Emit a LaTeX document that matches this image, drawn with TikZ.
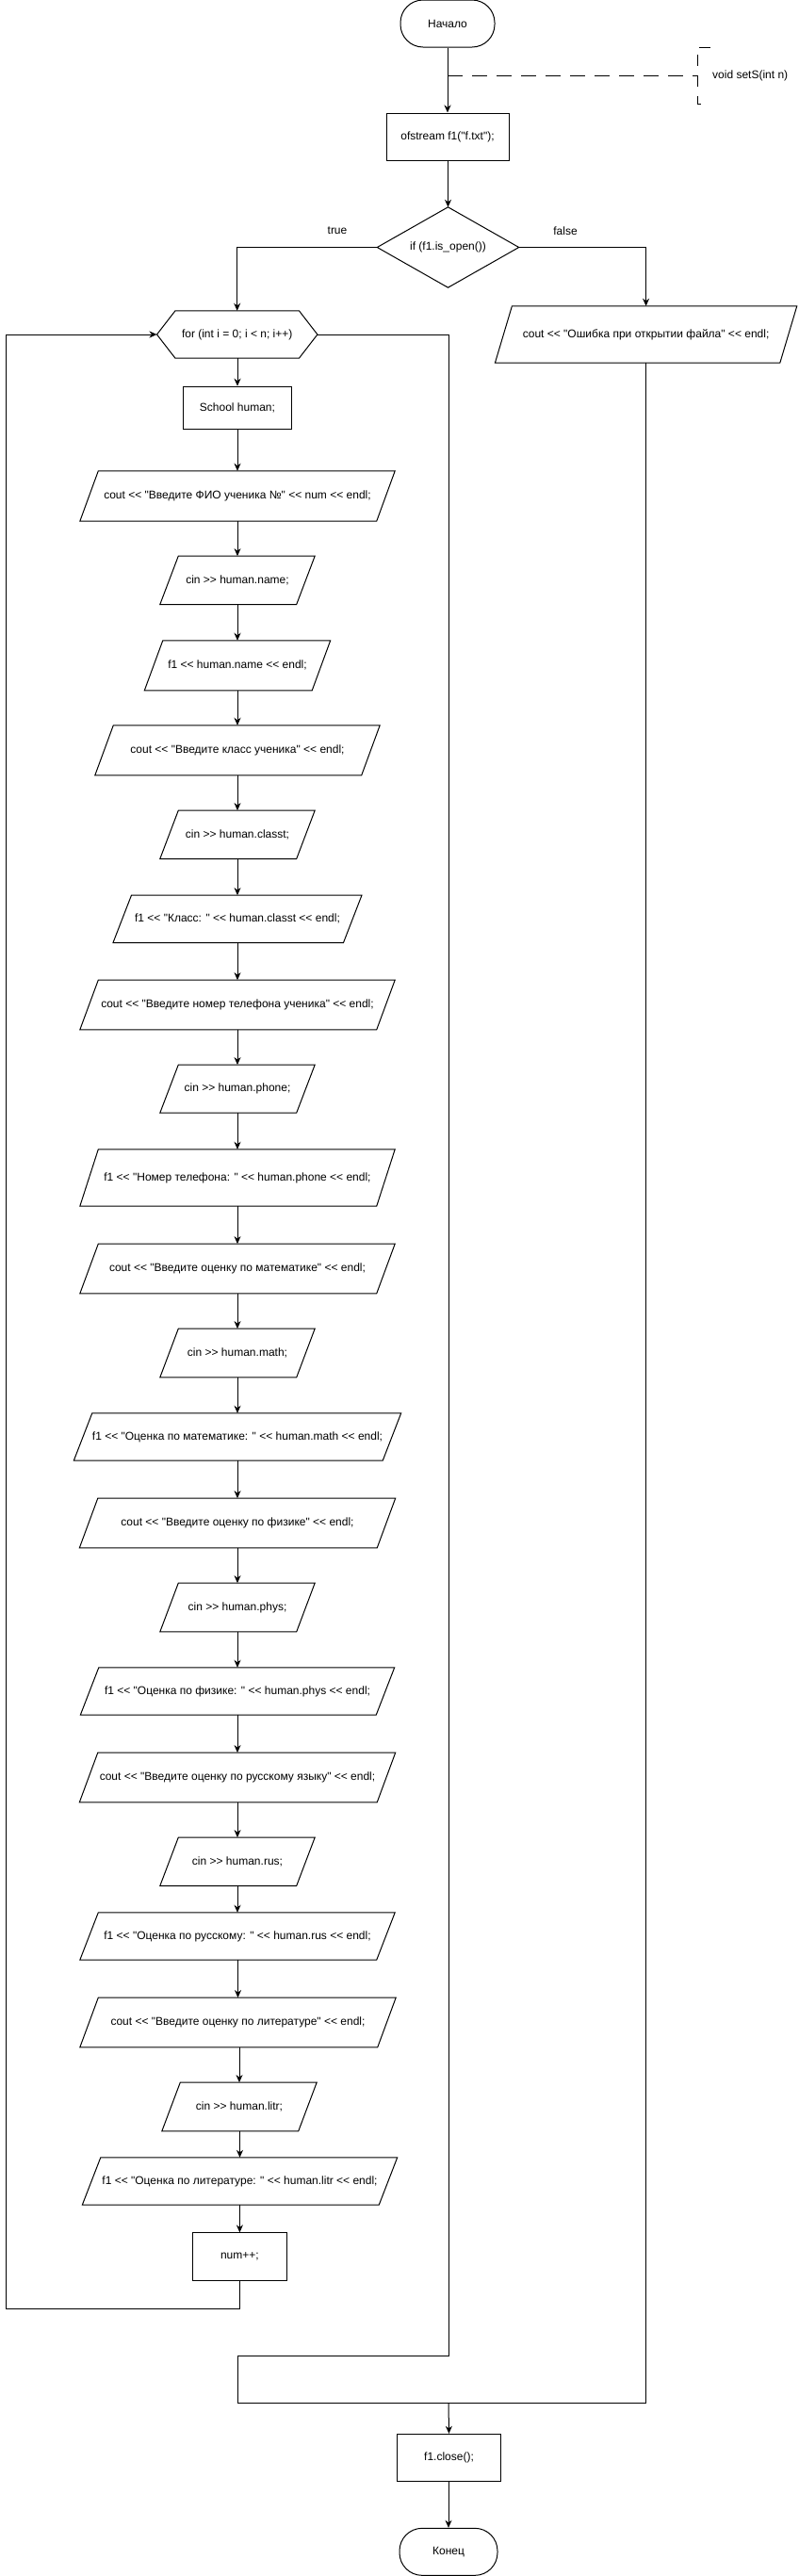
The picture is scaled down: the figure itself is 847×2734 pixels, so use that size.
\documentclass[tikz,border=0pt]{standalone}
\usepackage{fontspec}
\setmainfont{Liberation Sans}[Ligatures=TeXOff]
\usetikzlibrary{arrows.meta,calc}
\begin{document}
\begin{tikzpicture}[x=1pt,y=-1pt,
  every node/.style={font=\fontsize{12}{14}\selectfont, inner sep=0pt},
  line/.style={line width=1pt, draw=black},
  arr/.style={line, -{Stealth[length=8pt,width=7pt,inset=2.5pt]}},
  boxnode/.style={draw=none, rectangle, align=center},
  rectbox/.style={boxnode, draw=black, line width=1pt},
  termbox/.style={boxnode, draw=black, line width=1pt, rounded corners=24pt, minimum width=100pt, minimum height=50pt},
  shapeline/.style={line, line join=miter},
  annot/.style={line, dash pattern=on 16pt off 10pt},
  lbl/.style={font=\fontsize{12}{14}\selectfont}
]
\fill[white] (0,0) rectangle (847,2734);
\useasboundingbox (0,0) rectangle (847,2734);

% top part
\node[termbox] (start) at (475,25) {Начало};
\node[rectbox, minimum width=130pt, minimum height=50pt] (ofs) at (475,145) {ofstream f1("f.txt");};
\node[boxnode, minimum width=150pt, minimum height=85pt] (dec) at (475.5,262.5) {if (f1.is\_open())};
\node[boxnode, minimum width=320pt, minimum height=60pt] (err) at (685.6,355) {cout << "Ошибка при открытии файла" << endl;};
\node[boxnode, minimum width=170pt, minimum height=50pt] (loop) at (251.7,355) {for (int i = 0; i < n; i++)};
\node[rectbox, minimum width=115pt, minimum height=45pt] (sch) at (252,432.7) {School human;};

% loop body
\node[boxnode, minimum width=334pt, minimum height=53pt] (p1) at (252,526.5) {cout << "Введите ФИО ученика №" << num << endl;};
\node[boxnode, minimum width=164pt, minimum height=51pt] (p2) at (252,615.8) {cin >> human.name;};
\node[boxnode, minimum width=197pt, minimum height=52.7pt] (p3) at (252,706.3) {f1 << human.name << endl;};
\node[boxnode, minimum width=302pt, minimum height=52.7pt] (p4) at (252,796.3) {cout << "Введите класс ученика" << endl;};
\node[boxnode, minimum width=164pt, minimum height=51pt] (p5) at (252,885.8) {cin >> human.classt;};
\node[boxnode, minimum width=263.6pt, minimum height=50pt] (p6) at (252,975.3) {f1 << "Класс: " << human.classt << endl;};
\node[boxnode, minimum width=334pt, minimum height=52.4pt] (p7) at (252,1066.5) {cout << "Введите номер телефона ученика" << endl;};
\node[boxnode, minimum width=164pt, minimum height=50.7pt] (p8) at (252,1155.6) {cin >> human.phone;};
\node[boxnode, minimum width=334pt, minimum height=60pt] (p9) at (252,1250) {f1 << "Номер телефона: " << human.phone << endl;};
\node[boxnode, minimum width=334pt, minimum height=52.4pt] (p10) at (252,1346.5) {cout << "Введите оценку по математике" << endl;};
\node[boxnode, minimum width=164pt, minimum height=51.4pt] (p11) at (252,1436) {cin >> human.math;};
\node[boxnode, minimum width=347pt, minimum height=50pt] (p12) at (252,1525) {f1 << "Оценка по математике: " << human.math << endl;};
\node[boxnode, minimum width=335pt, minimum height=52.4pt] (p13) at (252,1616.5) {cout << "Введите оценку по физике" << endl;};
\node[boxnode, minimum width=164pt, minimum height=51.4pt] (p14) at (252,1706) {cin >> human.phys;};
\node[boxnode, minimum width=333pt, minimum height=50pt] (p15) at (252,1795) {f1 << "Оценка по физике: " << human.phys << endl;};
\node[boxnode, minimum width=335pt, minimum height=52.4pt] (p16) at (252,1886.5) {cout << "Введите оценку по русскому языку" << endl;};
\node[boxnode, minimum width=164pt, minimum height=51pt] (p17) at (252,1975.8) {cin >> human.rus;};
\node[boxnode, minimum width=334pt, minimum height=50pt] (p18) at (252,2055) {f1 << "Оценка по русскому: " << human.rus << endl;};
\node[boxnode, minimum width=335pt, minimum height=52.4pt] (p19) at (252.5,2146.5) {cout << "Введите оценку по литературе" << endl;};
\node[boxnode, minimum width=164pt, minimum height=51.4pt] (p20) at (254,2236) {cin >> human.litr;};
\node[boxnode, minimum width=334pt, minimum height=50pt] (p21) at (254.5,2315) {f1 << "Оценка по литературе: " << human.litr << endl;};
\node[rectbox, minimum width=100.7pt, minimum height=50.3pt] (num) at (254.4,2395) {num++;};

% bottom
\node[rectbox, minimum width=110pt, minimum height=50pt] (close) at (476.5,2608.3) {f1.close();};
\node[termbox, minimum width=104pt] (fin) at (476,2708.3) {Конец};

% labels
\node[lbl] (ltrue) at (358,245) {true};
\node[lbl] (lfalse) at (600,245) {false};
\node[lbl, anchor=west] (ann) at (756,80) {void setS(int n)};

% shapes
\draw[shapeline] (dec.north) -- (dec.east) -- (dec.south) -- (dec.west) -- cycle;
\draw[shapeline] (loop.west) -- ([xshift=19.5pt]loop.north west) -- ([xshift=-19.5pt]loop.north east) -- (loop.east) -- ([xshift=-19.5pt]loop.south east) -- ([xshift=19.5pt]loop.south west) -- cycle;
\draw[shapeline] (err.south west) -- ([xshift=18pt]err.north west) -- (err.north east) -- ([xshift=-18pt]err.south east) -- cycle;
\foreach \n in {p1,p2,p3,p4,p5,p6,p7,p8,p9,p10,p11,p12,p13,p14,p15,p16,p17,p18,p19,p20,p21}
  \draw[shapeline] (\n.south west) -- ([xshift=19.5pt]\n.north west) -- (\n.north east) -- ([xshift=-19.5pt]\n.south east) -- cycle;

% straight connectors
\foreach \a/\b in {start/ofs, ofs/dec, loop/sch, sch/p1, p1/p2, p2/p3, p3/p4, p4/p5, p5/p6, p6/p7, p7/p8, p8/p9, p9/p10, p10/p11, p11/p12, p12/p13, p13/p14, p14/p15, p15/p16, p16/p17, p17/p18, p18/p19, p19/p20, p20/p21, p21/num, close/fin}
  \draw[arr] (\b.north |- \a.south) -- (\b.north);

% branches
\draw[arr] (dec.west) -| (loop.north);
\draw[arr] (dec.east) -| (err.north);

% loop back
\coordinate (lb) at (6.7,2450);
\draw[arr] (num.south) |- (lb) |- (loop.west);

% loop exit and merge
\coordinate (x1) at (476,2500);
\coordinate (x2) at (252,2550);
\coordinate (m) at (476,2550);
\draw[line] (loop.east) -| (x1) -| (x2) -- (m);
\draw[line] (err.south) |- (m);
\draw[arr] (m) -- (close.north);

% annotation
\coordinate (a0) at (475,80);
\coordinate (a1) at (740,80);
\draw[annot] (a0) -- (a1);
\coordinate (bt) at (754,50);
\coordinate (bb) at (749,110);
\draw[line, dash pattern=on 12pt off 10pt] (bt) -- (740,50) -- (740,110) -- (bb);
\end{tikzpicture}
\end{document}
